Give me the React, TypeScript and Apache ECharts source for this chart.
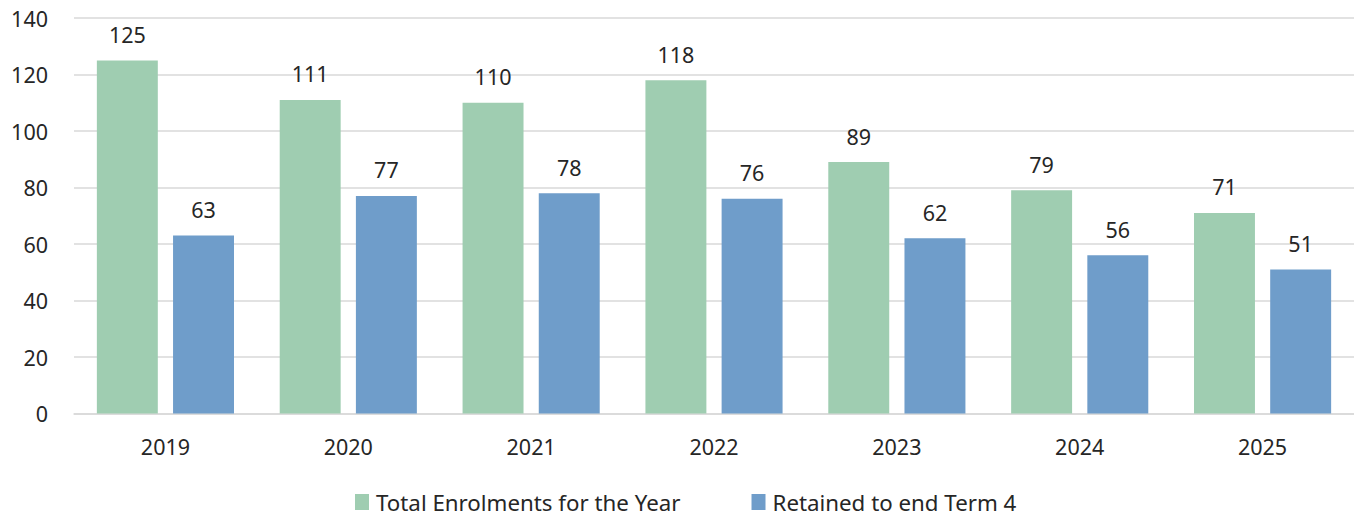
import React, { useEffect, useRef } from "react";
import * as echarts from "echarts";

const categories = ["2019", "2020", "2021", "2022", "2023", "2024", "2025"];
const totalEnrolments = [125, 111, 110, 118, 89, 79, 71];
const retained = [63, 77, 78, 76, 62, 56, 51];
const seriesNames = ["Total Enrolments for the Year", "Retained to end Term 4"];

const FONT = "'Noto Sans', sans-serif";
const TEXT = "#262626";

export default function App() {
  const ref = useRef<HTMLDivElement>(null);
  useEffect(() => {
    if (!ref.current) return;
    const chart = echarts.init(ref.current, undefined, { renderer: "svg" });
    const label = {
      show: true,
      position: "top",
      distance: 15,
      color: TEXT,
      fontSize: 21.5,
      fontFamily: FONT,
    };
    chart.setOption({
      animation: false,
      textStyle: { fontFamily: FONT, color: TEXT },
      grid: { left: 74, right: 0, top: 18, bottom: 103.5, containLabel: false },
      legend: {
        top: 491,
        left: 355,
        padding: 0,
        itemWidth: 14,
        itemHeight: 16,
        itemGap: 71,
        icon: "rect",
        textStyle: {
          fontSize: 22.3,
          lineHeight: 18,
          color: TEXT,
          fontFamily: FONT,
          padding: [0, 0, 0, 2],
        },
        data: seriesNames,
      },
      xAxis: {
        type: "category",
        data: categories,
        axisLine: { show: true, lineStyle: { color: "#d9d9d9", width: 1.5 } },
        axisTick: { show: false },
        axisLabel: { color: TEXT, fontSize: 21.5, fontFamily: FONT, margin: 22 },
      },
      yAxis: {
        type: "value",
        min: 0,
        max: 140,
        interval: 20,
        axisLine: { show: false },
        axisTick: { show: false },
        splitLine: { lineStyle: { color: "#d9d9d9", width: 1.5 } },
        axisLabel: { color: TEXT, fontSize: 21.5, fontFamily: FONT, margin: 26 },
      },
      series: [
        {
          name: seriesNames[0],
          type: "bar",
          data: totalEnrolments,
          itemStyle: { color: "#9FCDB1" },
          barGap: "25%",
          barCategoryGap: "25%",
          label,
        },
        {
          name: seriesNames[1],
          type: "bar",
          data: retained,
          itemStyle: { color: "#6F9DCA" },
          barGap: "25%",
          barCategoryGap: "25%",
          label,
        },
      ],
    });
    return () => chart.dispose();
  }, []);
  return <div ref={ref} style={{ width: 1354, height: 517, position: "absolute", left: 0, top: 0 }} />;
}
